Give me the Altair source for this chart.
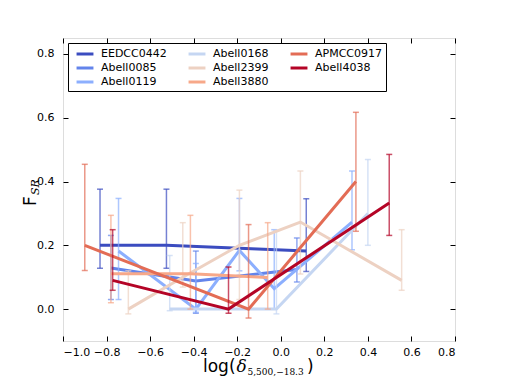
import altair as alt
import pandas as pd

# ---- data ----
SERIES = ["EEDCC0442", "Abell0085", "Abell0119", "Abell0168",
          "Abell2399", "Abell3880", "APMCC0917", "Abell4038"]
COLORS = ["#3b4cc0", "#6384eb", "#8caffe", "#c5d6f2",
          "#edd1c2", "#f7a889", "#e36c55", "#b40426"]

X_EEDCC0442 = [-0.83, -0.525, 0.117]
Y_EEDCC0442 = [0.200, 0.200, 0.182]
LO_EEDCC0442 = [0.128, 0.128, 0.118]
HI_EEDCC0442 = [0.376, 0.376, 0.346]

X_A0085 = [-0.78, -0.39, 0.074]
Y_A0085 = [0.129, 0.088, 0.124]
LO_A0085 = [0.030, -0.013, 0.085]
HI_A0085 = [0.231, 0.182, 0.223]

X_A0119 = [-0.745, -0.39, -0.19, -0.03, 0.327]
Y_A0119 = [0.182, 0.000, 0.184, 0.064, 0.273]
LO_A0119 = [0.030, -0.010, 0.120, 0.000, 0.186]
HI_A0119 = [0.347, 0.143, 0.347, 0.249, 0.433]

X_A0168 = [-0.51, -0.02, 0.40]
Y_A0168 = [0.000, 0.000, 0.300]
LO_A0168 = [-0.005, -0.015, 0.200]
HI_A0168 = [0.168, 0.247, 0.469]

X_A2399 = [-0.70, -0.45, -0.19, 0.09, 0.555]
Y_A2399 = [0.000, 0.100, 0.200, 0.273, 0.090]
LO_A2399 = [-0.015, 0.069, 0.030, 0.110, 0.059]
HI_A2399 = [0.120, 0.271, 0.373, 0.433, 0.249]

X_A3880 = [-0.78, -0.415, -0.06]
Y_A3880 = [0.111, 0.111, 0.099]
LO_A3880 = [0.020, 0.000, 0.000]
HI_A3880 = [0.294, 0.294, 0.271]

X_APM0917 = [-0.90, -0.148, 0.345]
Y_APM0917 = [0.200, 0.000, 0.400]
LO_APM0917 = [0.121, -0.028, 0.244]
HI_APM0917 = [0.454, 0.265, 0.617]

X_A4038 = [-0.772, -0.24, 0.498]
Y_A4038 = [0.090, 0.000, 0.333]
LO_A4038 = [0.059, -0.013, 0.231]
HI_A4038 = [0.249, 0.132, 0.485]

X_TICKS = [-1.0, -0.8, -0.6, -0.4, -0.2, 0.0, 0.2, 0.4, 0.6, 0.8]
Y_TICKS = [0.0, 0.2, 0.4, 0.6, 0.8]

DATA = {
    "EEDCC0442": (X_EEDCC0442, Y_EEDCC0442, LO_EEDCC0442, HI_EEDCC0442),
    "Abell0085": (X_A0085, Y_A0085, LO_A0085, HI_A0085),
    "Abell0119": (X_A0119, Y_A0119, LO_A0119, HI_A0119),
    "Abell0168": (X_A0168, Y_A0168, LO_A0168, HI_A0168),
    "Abell2399": (X_A2399, Y_A2399, LO_A2399, HI_A2399),
    "Abell3880": (X_A3880, Y_A3880, LO_A3880, HI_A3880),
    "APMCC0917": (X_APM0917, Y_APM0917, LO_APM0917, HI_APM0917),
    "Abell4038": (X_A4038, Y_A4038, LO_A4038, HI_A4038),
}

W, H = 392, 303

xscale = alt.Scale(domain=[-1.0, 0.8], nice=False, zero=False)
yscale = alt.Scale(domain=[-0.1, 0.85], nice=False, zero=False)

xaxis = alt.Axis(values=X_TICKS, format=".1f", title=None, ticks=False, domain=False,
                 grid=True, gridColor="black", gridOpacity=1, gridWidth=1,
                 gridDash=[5, H - 10, 5, 1000],
                 labelExpr="replace(datum.label, '-', '\u2212')",
                 labelFont="DejaVu Sans", labelFontSize=11, labelColor="black",
                 labelPadding=5)
yaxis = alt.Axis(values=Y_TICKS, format=".1f", title=None, ticks=False, domain=False,
                 grid=True, gridColor="black", gridOpacity=1, gridWidth=1,
                 gridDash=[5, W - 10, 5, 1000],
                 labelFont="DejaVu Sans", labelFontSize=11, labelColor="black",
                 labelPadding=9)

# Vega fills legend columns top-to-bottom, like matplotlib
color_scale = alt.Scale(domain=SERIES, range=COLORS)
legend = alt.Legend(title=None, orient="none", legendX=5, legendY=5, columns=3,
                    symbolType="M-1.3,0H1.3", symbolStrokeWidth=3, symbolSize=169,
                    labelFont="DejaVu Sans", labelFontSize=11, labelColor="black",
                    strokeColor="black", fillColor="white", padding=3,
                    rowPadding=0, columnPadding=15, labelOffset=8, symbolOffset=6)


def X(field):
    return alt.X(field, scale=xscale, axis=xaxis)


def Y(field):
    return alt.Y(field, scale=yscale, axis=yaxis)


layers = []
for s, col in zip(SERIES, COLORS):
    xs, ys, lo, hi = DATA[s]
    df = pd.DataFrame({"x": xs, "y": ys, "lo": lo, "hi": hi, "series": [s] * len(xs)})
    base = alt.Chart(df)
    rules = base.mark_rule(strokeWidth=1.5, opacity=0.7, color=col).encode(
        x=X("x:Q"), y=Y("lo:Q"), y2="hi:Q")
    cap_lo = base.mark_tick(orient="horizontal", size=6, thickness=1.5, opacity=0.7,
                            color=col).encode(x=X("x:Q"), y=Y("lo:Q"))
    cap_hi = base.mark_tick(orient="horizontal", size=6, thickness=1.5, opacity=0.7,
                            color=col).encode(x=X("x:Q"), y=Y("hi:Q"))
    line = base.mark_line(strokeWidth=3).encode(
        x=X("x:Q"), y=Y("y:Q"),
        color=alt.Color("series:N", scale=color_scale, legend=legend))
    layers += [rules, cap_lo, cap_hi, line]


def piece(t, x, y, size, font="DejaVu Sans", style="normal", angle=0):
    return alt.Chart(pd.DataFrame({"t": [t]})).mark_text(
        font=font, fontStyle=style, fontSize=size, align="left",
        baseline="alphabetic", angle=angle, color="black").encode(
        text="t:N", x=alt.value(x), y=alt.value(y))


xt = [
    piece("log(", 140, 334, 17),
    piece("\u03b4", 173.5, 334, 17, font="DejaVu Serif", style="italic"),
    piece("5,500,\u221218.3", 184.5, 337, 9, font="DejaVu Serif"),
    piece(")", 244, 334, 17),
]
yt = [
    piece("F", -27, 168, 17, angle=270),
    piece("SR", -24, 157, 11, font="DejaVu Serif", style="italic", angle=270),
]

chart = alt.layer(*layers, *xt, *yt).properties(
    width=W, height=H,
    autosize=alt.AutoSizeParams(type="none"),
    padding={"left": 55, "top": 30, "right": 40, "bottom": 40},
).configure_view(stroke="black", strokeWidth=1).configure(background="white")

chart.save("out.html", embed_options={"renderer": "svg", "actions": False})
